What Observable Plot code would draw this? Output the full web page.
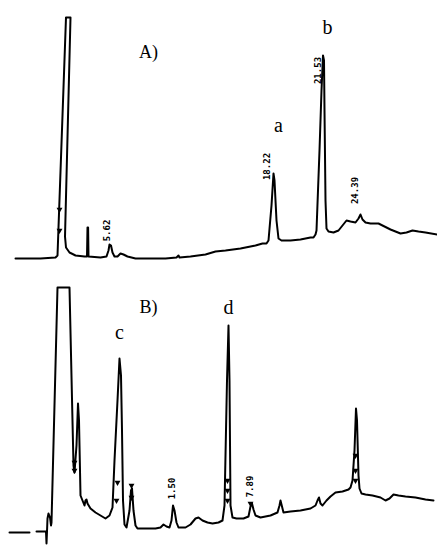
<!DOCTYPE html>
<html>
<head>
<meta charset="utf-8">
<script src="https://cdn.jsdelivr.net/npm/d3@7"></script>
<script src="https://cdn.jsdelivr.net/npm/@observablehq/plot@0.6"></script>
<style>
  html, body { margin: 0; padding: 0; background: #fff; }
  #chart svg { display: block; }
</style>
</head>
<body>
<div id="chart"></div>
<script>
// ---- Chromatogram A (time in chart units, detector signal) ----
const timeA = [15,40,55,57,65.5,70,64.5,65.5,69,75,84,86.5,87,87.6,88,100,106,108,109,110.5,112,114,117,120,123,127,135,150,165,176,178,179,190,205,215,225,240,255,262,266,268,271,273,274,276,278,281,290,300,310,313,315,316,319,321,322.5,323.5,324,325,326,328,333,338,342,346,350,355,358,360,362,365,370,378,384,390,395,400,406,412,418,425,437];
const signalA = [12,12,13,15,253,253,34,23,18,15,14,14,43,43,14,13,14,20,26,25,18,14,14,17,16,14,12,12,12,13,15,13,14,16,19,20,22,25,27,27,30,65,97,90,50,32,30,30,31,33,33,36,40,120,180,215,210,160,70,42,39,38,40,45,50,49,48,52,56,51,48,47,47,44,41,39,37,38,40,39,38,36];

// ---- Chromatogram B ----
const timeB0 = [9,29];
const signalB0 = [13,13];
const timeB = [36,44,45.5,46,46.5,47,48,49.5,50.5,51,57,69,73,74,76,77.5,78.5,80,82,84,85,86,87,90,95,100,105,109,112,114,117,119,120.5,121.5,122.5,124,126,129,130.5,131.5,133,135,137,145,155,160,163,166,169,171,172.5,174,176,178,185,190,195,198,202,207,212,218,222,224,226.5,228,229,230,232,236,243,248,250,251.5,253,255,260,265,270,277,279,280,281.5,283,290,300,310,315,317,318.5,320,322,326,330,335,342,348,350,352,354,355.5,356.5,358,359,361,365,372,380,385,389,393,398,405,415,425,433];
const signalB = [14,14,14,2,14,27,32,28,20,23,258,258,80,73,100,142,125,50,45,40,45,46,42,37,33,30,27,30,38,85,145,187,170,115,45,21,18,35,55,57,35,20,17,17,17,18,21,19,18,25,40,35,23,18,18,21,27,28,25,23,22,23,25,40,165,220,165,40,28,27,27,29,39,42,36,30,28,29,30,33,40,45,39,33,34,35,37,40,45,48,42,40,45,49,53,54,56,58,65,95,137,125,70,57,52,51,50,48,45,47,51,50,49,48,46,45];

// ---- Panel and peak letters ----
const panelA = ["A)"], panelAX = [148], panelAY = [218];
const peaksA = ["a", "b"], peaksAX = [278, 327], peaksAY = [145, 243];
const panelB = ["B)"], panelBX = [148], panelBY = [238];
const peaksB = ["c", "d"], peaksBX = [119, 228], peaksBY = [213, 238];

// ---- Retention-time printouts ----
const rtA = ["5.62", "18.22", "21.53", "24.39"], rtAX = [107, 267, 318, 355], rtAY = [40, 104, 200, 80];
const rtB = ["1.50", "7.89"], rtBX = [172, 250], rtBY = [57, 59];

// ---- Integrator tick marks ----
const tickAX = [59, 59], tickAY = [61, 40];
const tickBX = [74, 74, 117, 116, 131, 131, 227, 227, 227, 250, 355, 355, 355];
const tickBY = [83, 75, 63, 45, 60, 48, 65, 55, 45, 42, 90, 75, 65];

const pts = (xs, ys, extra = {}) => xs.map((x, i) => ({x, y: ys[i], ...extra}));
const labs = (ts, xs, ys) => ts.map((t, i) => ({t, x: xs[i], y: ys[i]}));

const serif = "'Liberation Serif', 'DejaVu Serif', serif";
const mono = "'DejaVu Sans Mono', monospace";

function panel(height, yMax, lines, panelL, peakL, rtL, ticks) {
  return Plot.plot({
    width: 437, height, margin: 0,
    x: {domain: [0, 437], axis: null},
    y: {domain: [0, yMax], axis: null},
    marks: [
      Plot.line(lines, {x: "x", y: "y", z: "seg", stroke: "#000", strokeWidth: 2, strokeLinejoin: "round", curve: "linear"}),
      Plot.dot(ticks, {x: "x", y: "y", symbol: "triangle", r: 2.2, fill: "#000", stroke: "none", rotate: 180}),
      Plot.text(panelL, {x: "x", y: "y", text: "t", fontSize: 18, fontFamily: serif, fill: "#000"}),
      Plot.text(peakL, {x: "x", y: "y", text: "t", fontSize: 20, fontFamily: serif, fill: "#000"}),
      Plot.text(rtL, {x: "x", y: "y", text: "t", fontSize: 9, fontFamily: mono, fontWeight: "bold", fill: "#000", rotate: -90})
    ]
  });
}

const linesA = pts(timeA, signalA, {seg: 0});
const linesB = [...pts(timeB0, signalB0, {seg: 0}), ...pts(timeB, signalB, {seg: 1})];

const chart = document.getElementById("chart");
chart.append(panel(270, 270, linesA, labs(panelA, panelAX, panelAY), labs(peaksA, peaksAX, peaksAY), labs(rtA, rtAX, rtAY), pts(tickAX, tickAY)));
chart.append(panel(275, 275, linesB, labs(panelB, panelBX, panelBY), labs(peaksB, peaksBX, peaksBY), labs(rtB, rtBX, rtBY), pts(tickBX, tickBY)));
</script>
</body>
</html>
